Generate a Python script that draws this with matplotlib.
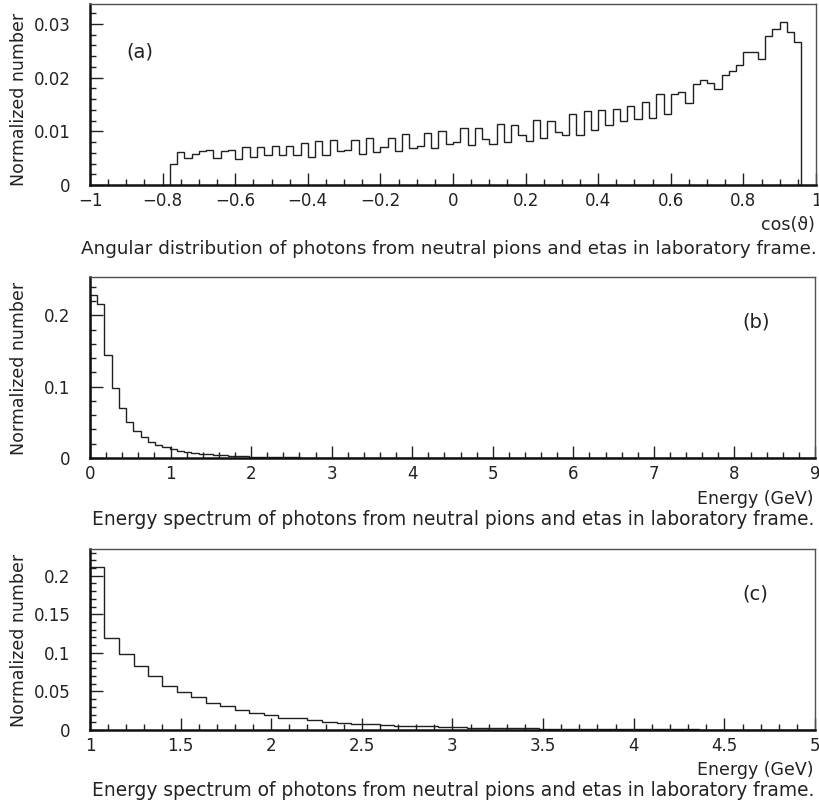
import numpy as np
import matplotlib
matplotlib.use('Agg')
import matplotlib.pyplot as plt
from matplotlib.ticker import FixedLocator, MultipleLocator

# (a) cos(theta), bins of 0.02 starting at -0.78
cos_start = -0.78
cos_width = 0.02
cos_vals = [0.0039, 0.0062, 0.0050, 0.0058, 0.0063, 0.0065, 0.0050, 0.0063, 0.0065, 0.0049,
            0.0071, 0.0052, 0.0071, 0.0055, 0.0072, 0.0055, 0.0073, 0.0055, 0.0078, 0.0053,
            0.0082, 0.0056, 0.0083, 0.0063, 0.0066, 0.0083, 0.0058, 0.0088, 0.0061, 0.0070,
            0.0088, 0.0063, 0.0095, 0.0068, 0.0073, 0.0097, 0.0068, 0.0101, 0.0077, 0.0080,
            0.0106, 0.0074, 0.0106, 0.0085, 0.0076, 0.0114, 0.0080, 0.0112, 0.0094, 0.0081,
            0.0121, 0.0087, 0.0120, 0.0099, 0.0094, 0.0133, 0.0093, 0.0138, 0.0102, 0.0140,
            0.0111, 0.0142, 0.0119, 0.0147, 0.0122, 0.0155, 0.0125, 0.0170, 0.0132, 0.0170,
            0.0174, 0.0152, 0.0188, 0.0196, 0.0189, 0.0178, 0.0204, 0.0212, 0.0224, 0.0247,
            0.0247, 0.0235, 0.0278, 0.0291, 0.0304, 0.0285, 0.0267]

# (b) energy 0..9 GeV, 100 bins
eb_start = 0.0
eb_width = 0.09
eb_vals = [0.228, 0.216, 0.144, 0.098, 0.0706, 0.0505, 0.0379, 0.0294, 0.0224, 0.0182,
           0.0155, 0.0130, 0.0105, 0.0088, 0.0074, 0.0062, 0.0052, 0.0044, 0.0037, 0.0031,
           0.0026, 0.0022, 0.0019, 0.0016, 0.0014, 0.0012, 0.0010, 0.0009, 0.0008, 0.0007,
           0.0006, 0.0005, 0.0005, 0.0004, 0.0004, 0.0003, 0.0003, 0.0003, 0.0002, 0.0002,
           0.0002, 0.0002, 0.0001, 0.0001, 0.0001, 0.0001, 0.0001, 0.0001, 0.0001, 0.0001,
           0.00008, 0.00008, 0.00007, 0.00007, 0.00006, 0.00006, 0.00005, 0.00005, 0.00005, 0.00004,
           0.00004, 0.00004, 0.00003, 0.00003, 0.00003, 0.00003, 0.00002, 0.00002, 0.00002, 0.00002,
           0.00002, 0.00002, 0.00001, 0.00001, 0.00001, 0.00001, 0.00001, 0.00001, 0.00001, 0.00001,
           0.00001, 0.00001, 0.00001, 0.0, 0.0, 0.0, 0.0, 0.0, 0.0, 0.0,
           0.0, 0.0, 0.0, 0.0, 0.0, 0.0, 0.0, 0.0, 0.0, 0.0]

# (c) energy 1..5 GeV, 50 bins
ec_start = 1.0
ec_width = 0.08
ec_vals = [0.212, 0.119, 0.0987, 0.0835, 0.0706, 0.0576, 0.0498, 0.0424, 0.0346, 0.0307,
           0.0255, 0.0225, 0.0195, 0.0160, 0.0152, 0.0126, 0.0100, 0.0088, 0.0079, 0.0074,
           0.0062, 0.0055, 0.0051, 0.0048, 0.0042, 0.0036, 0.0032, 0.0030, 0.0025, 0.0023,
           0.0021, 0.0019, 0.0017, 0.0015, 0.0014, 0.0012, 0.0011, 0.0010, 0.0009, 0.0008,
           0.0008, 0.0007, 0.0006, 0.0006, 0.0005, 0.0005, 0.0004, 0.0004, 0.0003, 0.0003]

xticks_a = [-1, -0.8, -0.6, -0.4, -0.2, 0, 0.2, 0.4, 0.6, 0.8, 1]
xlabels_a = ['\u22121', '\u22120.8', '\u22120.6', '\u22120.4', '\u22120.2', '0', '0.2', '0.4', '0.6', '0.8', '1']
yticks_a = [0, 0.01, 0.02, 0.03]
ylabels_a = ['0', '0.01', '0.02', '0.03']
xticks_b = [0, 1, 2, 3, 4, 5, 6, 7, 8, 9]
yticks_b = [0, 0.1, 0.2]
ylabels_b = ['0', '0.1', '0.2']
xticks_c = [1, 1.5, 2, 2.5, 3, 3.5, 4, 4.5, 5]
xlabels_c = ['1', '1.5', '2', '2.5', '3', '3.5', '4', '4.5', '5']
yticks_c = [0, 0.05, 0.1, 0.15, 0.2]
ylabels_c = ['0', '0.05', '0.1', '0.15', '0.2']

caption_a = 'Angular distribution of photons from neutral pions and etas in laboratory frame.'
caption_e = 'Energy spectrum of photons from neutral pions and etas in laboratory frame.'

W, H = 820, 805
plt.rcParams['font.family'] = ['DejaVu Sans']
fig = plt.figure(figsize=(W / 100, H / 100), dpi=100)
txt = '#222222'


def rect(l, t, r, b):
    return [l / W, 1 - b / H, (r - l) / W, (b - t) / H]


def make_panel(box, start, width, vals, xlim, ylim, xt, xl, yt, yl, xminor, yminor):
    ax = fig.add_axes(rect(*box))
    edges = start + width * np.arange(len(vals) + 1)
    ax.stairs(vals, edges, baseline=0, color='#202020', lw=1.0)
    ax.set_xlim(*xlim)
    ax.set_ylim(*ylim)
    ax.xaxis.set_major_locator(FixedLocator(xt))
    ax.set_xticklabels(xl)
    ax.yaxis.set_major_locator(FixedLocator(yt))
    ax.set_yticklabels(yl)
    ax.xaxis.set_minor_locator(MultipleLocator(xminor))
    ax.yaxis.set_minor_locator(MultipleLocator(yminor))
    ax.tick_params(which='both', direction='in', top=False, right=False,
                   colors='#202020', labelcolor=txt, labelsize=12, width=1.0)
    ax.tick_params(which='major', length=9)
    ax.tick_params(which='minor', length=4.5)
    ax.tick_params(axis='x', pad=5)
    ax.tick_params(axis='y', pad=14)
    for s in ['left', 'bottom']:
        ax.spines[s].set_linewidth(1.8)
        ax.spines[s].set_color('#101010')
    for s in ['top', 'right']:
        ax.spines[s].set_linewidth(1.0)
        ax.spines[s].set_color('#505050')
    return ax


ax_a = make_panel((90, 4, 816, 185), cos_start, cos_width, cos_vals, (-1, 1), (0, 0.0337),
                  xticks_a, xlabels_a, yticks_a, ylabels_a, 0.05, 0.002)
ax_b = make_panel((90, 277, 815, 458), eb_start, eb_width, eb_vals, (0, 9), (0, 0.2537),
                  xticks_b, [str(v) for v in xticks_b], yticks_b, ylabels_b, 0.2, 0.02)
ax_c = make_panel((90, 549, 815, 730), ec_start, ec_width, ec_vals, (1, 5), (0, 0.2347),
                  xticks_c, xlabels_c, yticks_c, ylabels_c, 0.1, 0.01)


def ftext(x, y, s, **kw):
    kw.setdefault('color', txt)
    kw.setdefault('fontsize', 12)
    return fig.text(x / W, 1 - y / H, s, **kw)


renderer = fig.canvas.get_renderer()


def fit_width(t, target):
    # scale the font so the caption spans the same width as in the reference
    w = t.get_window_extent(renderer).width
    t.set_fontsize(t.get_fontsize() * target / w)


ftext(126, 57, '(a)', ha='left', va='baseline', fontsize=14)
ftext(742, 327, '(b)', ha='left', va='baseline', fontsize=14)
ftext(742, 600, '(c)', ha='left', va='baseline', fontsize=14)

ftext(815, 230, 'cos(\u03d1)', ha='right', va='baseline', fontsize=12.5)
fit_width(ftext(817, 254, caption_a, ha='right', va='baseline'), 735)
ftext(814, 504, 'Energy (GeV)', ha='right', va='baseline', fontsize=12.5)
fit_width(ftext(814, 525, caption_e, ha='right', va='baseline'), 718)
ftext(814, 775, 'Energy (GeV)', ha='right', va='baseline', fontsize=12.5)
fit_width(ftext(814, 796, caption_e, ha='right', va='baseline'), 718)

for yc in [99, 368, 640]:
    ftext(19, yc, 'Normalized number', rotation=90, ha='center', va='center', fontsize=12.5)

fig.savefig('out.png', dpi=100)
